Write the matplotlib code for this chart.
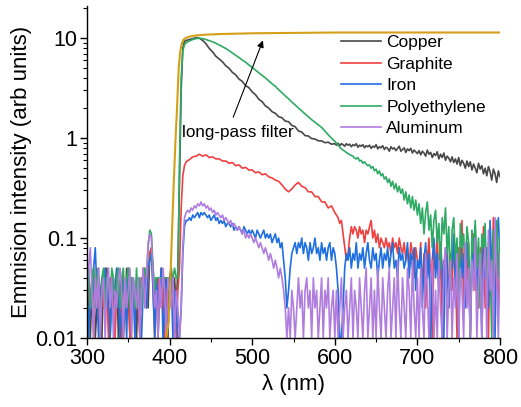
import numpy as np
import matplotlib
matplotlib.use('Agg')
import matplotlib.pyplot as plt
from matplotlib.ticker import LogLocator, NullFormatter, FixedLocator, FixedFormatter, MultipleLocator

plt.rcParams['font.family'] = ['Liberation Sans', 'DejaVu Sans']

# ---------------- data ----------------
# low-wavelength background noise, 300-410 nm every 2 nm, in units of 0.01
copper_low = [2,4,1,3,5,1,2,4,3,1, 4,2,5,3,1,4,2,3,5,1, 3,4,1,2,5,3,1,4,2,3,
              1,4,3,2,5,3,4,2,7,8, 5,2,4,1,3,5,2,4,3,1, 4,5,3,4,2,5]
graphite_low = [1,3,2,4,1,3,5,2,1,4, 2,5,3,1,4,3,2,1,3,4, 2,1,4,3,2,5,1,3,4,2,
                3,2,1,4,3,5,2,4,7,8, 3,1,3,4,2,5,3,1,4,2, 3,4,2,3,1,3]
iron_low = [4,1,3,2,5,8,3,1,2,4, 3,5,2,4,1,3,4,2,5,3, 1,2,4,3,1,5,2,4,3,1,
            4,3,2,1,3,4,2,5,6,7, 3,1,4,2,3,5,1,2,4,3, 2,4,1,3,2,1]
poly_low = [3,5,2,4,5,2,4,5,1,4, 5,2,4,4,2,5,4,2,4,5, 2,4,5,2,4,5,2,4,4,2,
            5,2,4,2,4,5,4,8,12,11, 5,3,4,4,4,4,4,4,4,4, 4,4,4,5,4,4]
alum_low = [2,5,8,3,1,4,2,5,1,3, 4,1,3,5,2,4,1,3,2,4, 5,3,1,4,2,3,5,1,4,3,
            2,4,1,3,5,2,4,9,11,10, 4,2,3,1,4,2,5,3,1,4, 3,2,4,1,3,2]

# Copper
copper_rise_x = [412, 414, 416, 418]
copper_rise_y = [0.4, 3.0, 8.0, 9.3]
copper_mid = [9.5, 9.7, 9.9, 10.1, 10.0, 9.5, 8.8, 7.9, 7.3, 6.6,
              6.2, 5.8, 5.3, 5.0, 4.55, 4.3, 3.9, 3.7, 3.35, 3.2,
              2.9, 2.72, 2.45, 2.32, 2.1, 2.0, 1.84, 1.77, 1.64, 1.6,
              1.48, 1.46, 1.34, 1.3, 1.18, 1.15, 1.06, 1.05, 0.99, 0.98,
              0.94, 0.94, 0.9, 0.91, 0.87, 0.88]          # 420-600 nm, step 4
copper_tail = [0.85, 0.89, 0.84, 0.88, 0.86, 0.83, 0.88, 0.85, 0.87, 0.82,
               0.86, 0.84, 0.88, 0.81, 0.85, 0.83, 0.86, 0.80, 0.84, 0.82,
               0.85, 0.79, 0.83, 0.81, 0.86, 0.78, 0.82, 0.80, 0.84, 0.77,
               0.81, 0.79, 0.74, 0.82, 0.78, 0.80, 0.75, 0.79, 0.83, 0.74,
               0.77, 0.80, 0.72, 0.78, 0.75, 0.79, 0.71, 0.76, 0.73, 0.70,
               0.75, 0.68, 0.74, 0.71, 0.66, 0.76, 0.69, 0.72, 0.64, 0.70,
               0.67, 0.73, 0.62, 0.69, 0.64, 0.71, 0.60, 0.66, 0.63, 0.58,
               0.65, 0.57, 0.62, 0.55, 0.64, 0.53, 0.60, 0.56, 0.50, 0.59,
               0.52, 0.58, 0.48, 0.55, 0.50, 0.45, 0.56, 0.49, 0.53, 0.44,
               0.50, 0.42, 0.52, 0.46, 0.38, 0.49, 0.44, 0.36, 0.47, 0.41]  # 602-800, step 2

# Polyethylene
poly_rise_x = [412, 414, 416, 418, 420, 424, 428, 432, 436]
poly_rise_y = [0.6, 4.0, 7.5, 8.6, 9.0, 9.4, 9.7, 9.9, 10.0]
poly_mid = [9.9, 9.7, 9.45, 9.2, 8.9, 8.55, 8.2, 7.9, 7.5, 7.1,
            6.75, 6.4, 6.05, 5.75, 5.4, 5.1, 4.8, 4.5, 4.25, 4.0,
            3.75, 3.5, 3.3, 3.05, 2.85, 2.65, 2.48, 2.3, 2.15, 2.0,
            1.87, 1.75, 1.63, 1.53, 1.44, 1.36, 1.28, 1.18, 1.08, 1.0,
            0.93, 0.85, 0.78, 0.74, 0.70, 0.67]            # 440-620, step 4
poly_tail = [0.66, 0.63, 0.62, 0.64, 0.59, 0.60, 0.56, 0.58, 0.55, 0.53,
             0.54, 0.50, 0.52, 0.47, 0.49, 0.44, 0.47, 0.42, 0.44, 0.39,
             0.41, 0.36, 0.39, 0.33, 0.37, 0.31, 0.35, 0.29, 0.33, 0.28,
             0.31, 0.24, 0.29, 0.22, 0.27, 0.20, 0.26, 0.19, 0.24, 0.17,
             0.22, 0.14, 0.20, 0.11, 0.18, 0.23, 0.12, 0.17, 0.08, 0.15,
             0.19, 0.09, 0.14, 0.05, 0.16, 0.11, 0.20, 0.07, 0.13, 0.03,
             0.12, 0.16, 0.06, 0.10, 0.02, 0.14, 0.08, 0.11, 0.04, 0.13,
             0.09, 0.01, 0.12, 0.07, 0.15, 0.05, 0.10, 0.02, 0.11, 0.08,
             0.14, 0.03, 0.09, 0.06, 0.01, 0.12, 0.07, 0.15, 0.04, 0.10]  # 622-800, step 2

# Graphite
graphite_rise_x = [412, 414, 416, 418, 420]
graphite_rise_y = [0.05, 0.2, 0.42, 0.53, 0.58]
graphite_mid = [0.61, 0.65, 0.66, 0.69, 0.66, 0.68, 0.64, 0.65, 0.62, 0.62,
                0.59, 0.59, 0.56, 0.57, 0.53, 0.54, 0.50, 0.51, 0.48, 0.48,
                0.45, 0.46, 0.43, 0.44, 0.41, 0.40, 0.38, 0.37, 0.34, 0.31,
                0.29, 0.31, 0.34, 0.36, 0.33, 0.32, 0.29, 0.29, 0.26, 0.26,
                0.23, 0.23, 0.20, 0.21, 0.18]              # 424-600, step 4
graphite_tail = [0.17, 0.16, 0.14, 0.15, 0.11, 0.08, 0.06, 0.07, 0.10, 0.13,
                 0.11, 0.13, 0.12, 0.10, 0.13, 0.11, 0.12, 0.09, 0.12, 0.11,
                 0.13, 0.15, 0.10, 0.12, 0.09, 0.11, 0.08, 0.10, 0.09, 0.08,
                 0.10, 0.08, 0.09, 0.07, 0.10, 0.08, 0.09, 0.07, 0.10, 0.08,
                 0.07, 0.09, 0.06, 0.08, 0.05, 0.09, 0.07, 0.04, 0.08, 0.06,
                 0.05, 0.09, 0.03, 0.07, 0.02, 0.06, 0.10, 0.04, 0.01, 0.07,
                 0.05, 0.12, 0.03, 0.08, 0.01, 0.06, 0.04, 0.09, 0.02, 0.07,
                 0.03, 0.10, 0.05, 0.01, 0.08, 0.04, 0.15, 0.02, 0.06, 0.03,
                 0.09, 0.01, 0.05, 0.11, 0.03, 0.07, 0.02, 0.08, 0.04, 0.13,
                 0.02, 0.06, 0.01, 0.09, 0.04, 0.16, 0.03, 0.07, 0.02, 0.05]  # 602-800, step 2

# Iron
iron_rise_x = [412, 414, 416, 418, 420]
iron_rise_y = [0.01, 0.02, 0.07, 0.13, 0.15]
iron_body = [0.15, 0.16, 0.15, 0.17, 0.16, 0.17, 0.18, 0.16, 0.18, 0.17,
             0.18, 0.17, 0.16, 0.17, 0.15, 0.16, 0.17, 0.15, 0.16, 0.14,
             0.15, 0.14, 0.15, 0.13, 0.14, 0.14, 0.13, 0.14, 0.12, 0.13,
             0.12, 0.13, 0.12, 0.11, 0.13, 0.12, 0.11, 0.12, 0.11, 0.12,
             0.11, 0.10, 0.12, 0.11, 0.10, 0.11, 0.12, 0.10, 0.11, 0.10,
             0.11, 0.09, 0.10, 0.11, 0.09, 0.10, 0.08, 0.09, 0.06, 0.04,
             0.02, 0.03, 0.05, 0.07, 0.08, 0.09, 0.07, 0.09, 0.08, 0.10,
             0.07, 0.09, 0.08, 0.06, 0.09, 0.07, 0.08, 0.10, 0.07, 0.08,
             0.06, 0.09, 0.07, 0.08, 0.06, 0.08, 0.09, 0.06, 0.08, 0.07,
             0.05, 0.03, 0.01, 0.01, 0.02, 0.05, 0.07, 0.06, 0.08, 0.05,
             0.07, 0.06, 0.09, 0.05, 0.07, 0.06, 0.08, 0.05, 0.07, 0.09,
             0.06, 0.05, 0.08, 0.06, 0.07, 0.04, 0.06, 0.08, 0.05, 0.07,
             0.06, 0.08, 0.05, 0.07, 0.09, 0.05, 0.06, 0.04, 0.08, 0.06,
             0.07, 0.05, 0.06, 0.09, 0.04, 0.07, 0.05, 0.08, 0.03, 0.06,
             0.05, 0.08, 0.02, 0.06, 0.09, 0.04, 0.07, 0.01, 0.06, 0.10,
             0.04, 0.07, 0.03, 0.09, 0.05, 0.01, 0.08, 0.06, 0.02, 0.07,
             0.05, 0.11, 0.03, 0.06, 0.01, 0.08, 0.04, 0.07, 0.02, 0.09,
             0.06, 0.01, 0.08, 0.04, 0.12, 0.03, 0.07, 0.05, 0.01, 0.09,
             0.04, 0.08, 0.02, 0.15, 0.05, 0.07, 0.01, 0.10, 0.16, 0.06]  # 422-800, step 2

# Aluminum
alum_rise_x = [412, 414, 416, 418, 420]
alum_rise_y = [0.01, 0.02, 0.08, 0.16, 0.18]
alum_body = [0.19, 0.18, 0.20, 0.19, 0.21, 0.20, 0.22, 0.21, 0.23, 0.21,
             0.22, 0.20, 0.21, 0.19, 0.20, 0.18, 0.19, 0.17, 0.18, 0.17,
             0.16, 0.17, 0.15, 0.16, 0.15, 0.14, 0.15, 0.13, 0.14, 0.13,
             0.12, 0.13, 0.12, 0.11, 0.12, 0.10, 0.11, 0.10, 0.11, 0.10,
             0.09, 0.10, 0.09, 0.08, 0.09, 0.08, 0.07, 0.08, 0.07, 0.06,
             0.07, 0.06, 0.05, 0.06, 0.05, 0.04, 0.05, 0.04, 0.03, 0.02,
             0.01, 0.02, 0.01, 0.03, 0.02, 0.01, 0.02, 0.04, 0.02, 0.03,
             0.01, 0.03, 0.04, 0.02, 0.03, 0.01, 0.04, 0.02, 0.03, 0.01,
             0.02, 0.04, 0.01, 0.03, 0.02, 0.04, 0.01, 0.02, 0.03, 0.01,
             0.03, 0.01, 0.02, 0.04, 0.01, 0.02, 0.03, 0.01, 0.02, 0.04,
             0.01, 0.03, 0.02, 0.01, 0.04, 0.02, 0.01, 0.03, 0.05, 0.01,
             0.02, 0.04, 0.01, 0.03, 0.01, 0.05, 0.02, 0.01, 0.04, 0.02,
             0.01, 0.03, 0.05, 0.01, 0.02, 0.04, 0.01, 0.06, 0.02, 0.01,
             0.04, 0.02, 0.01, 0.05, 0.03, 0.01, 0.06, 0.02, 0.01, 0.04,
             0.01, 0.05, 0.02, 0.01, 0.07, 0.03, 0.01, 0.04, 0.06, 0.01,
             0.03, 0.01, 0.06, 0.02, 0.01, 0.05, 0.08, 0.01, 0.03, 0.06,
             0.01, 0.04, 0.02, 0.07, 0.01, 0.05, 0.03, 0.01, 0.09, 0.02,
             0.05, 0.01, 0.06, 0.03, 0.10, 0.01, 0.04, 0.07, 0.01, 0.05,
             0.08, 0.01, 0.12, 0.03, 0.06, 0.01, 0.16, 0.04, 0.01, 0.07]  # 422-800, step 2

# long-pass filter transmission
filter_x = [396, 399, 401, 403, 405, 407, 409, 411, 413, 415, 417, 420,
            425, 430, 440, 460, 500, 550, 600, 700, 800]
filter_y = [0.01, 0.015, 0.04, 0.12, 0.35, 0.9, 2.0, 5.0, 7.5, 9.0, 9.7, 10.1,
            10.4, 10.6, 10.8, 11.0, 11.2, 11.3, 11.4, 11.4, 11.4]

labels = ['Copper', 'Graphite', 'Iron', 'Polyethylene', 'Aluminum']
colors = ['#484848', '#f04040', '#1f6fe0', '#2eaa64', '#b07ddf']
filter_color = '#d4a017'
xticks = [300, 400, 500, 600, 700, 800]
yticks = [0.01, 0.1, 1, 10]
yticklabels = ['0.01', '0.1', '1', '10']
# ----------------------------------------------------------------


def seg(start, stop, vals, scale=1.0):
    return np.linspace(start, stop, len(vals)), np.asarray(vals, float) * scale


def build(parts):
    xs = np.concatenate([p[0] for p in parts])
    ys = np.concatenate([p[1] for p in parts])
    return xs, ys


series = [
    build([seg(300, 410, copper_low, 0.01),
           (np.array(copper_rise_x, float), np.array(copper_rise_y)),
           seg(420, 600, copper_mid), seg(602, 800, copper_tail)]),
    build([seg(300, 410, graphite_low, 0.01),
           (np.array(graphite_rise_x, float), np.array(graphite_rise_y)),
           seg(424, 600, graphite_mid), seg(602, 800, graphite_tail)]),
    build([seg(300, 410, iron_low, 0.01),
           (np.array(iron_rise_x, float), np.array(iron_rise_y)),
           seg(422, 800, iron_body)]),
    build([seg(300, 410, poly_low, 0.01),
           (np.array(poly_rise_x, float), np.array(poly_rise_y)),
           seg(440, 620, poly_mid), seg(622, 800, poly_tail)]),
    build([seg(300, 410, alum_low, 0.01),
           (np.array(alum_rise_x, float), np.array(alum_rise_y)),
           seg(422, 800, alum_body)]),
]

fig = plt.figure(figsize=(5.21, 4.07), dpi=100)
ax = fig.add_axes([87/521, 69/407, 413/521, 332/407])

for (x, y), lab, c in zip(series, labels, colors):
    ax.plot(x, y, color=c, lw=1.2, label=lab)
ax.plot(filter_x, filter_y, color=filter_color, lw=1.5)

ax.set_yscale('log')
ax.set_xlim(300, 800)
ax.set_ylim(0.01, 21)

ax.xaxis.set_major_locator(FixedLocator(xticks))
ax.xaxis.set_minor_locator(MultipleLocator(50))
ax.yaxis.set_major_locator(FixedLocator(yticks))
ax.yaxis.set_major_formatter(FixedFormatter(yticklabels))
ax.yaxis.set_minor_locator(LogLocator(base=10, subs=np.arange(2, 10)))
ax.yaxis.set_minor_formatter(NullFormatter())

for s in ['top', 'right']:
    ax.spines[s].set_visible(False)
for s in ['left', 'bottom']:
    ax.spines[s].set_linewidth(1.0)
ax.tick_params(which='major', direction='out', length=5, width=1.0, labelsize=15.5, pad=2)
ax.tick_params(which='minor', direction='out', length=3, width=0.8)

ax.set_xlabel('λ (nm)', fontsize=16, labelpad=4)
ax.set_ylabel('Emmision intensity (arb units)', fontsize=16, labelpad=2)

ax.annotate('', xy=(513, 9.5), xytext=(477, 1.62),
            arrowprops=dict(arrowstyle='-|>', color='black', lw=0.8,
                            mutation_scale=10, shrinkA=0, shrinkB=0))
ax.text(415, 1.02, 'long-pass filter', fontsize=12.3, ha='left', va='baseline')

ax.legend(loc='upper left', bbox_to_anchor=(341/521, 1 - 35/407),
          bbox_transform=fig.transFigure, frameon=False, fontsize=12.5,
          handlelength=2.3, handletextpad=0.3, labelspacing=0.37,
          borderpad=0, borderaxespad=0)

fig.savefig('out.png', dpi=100)
